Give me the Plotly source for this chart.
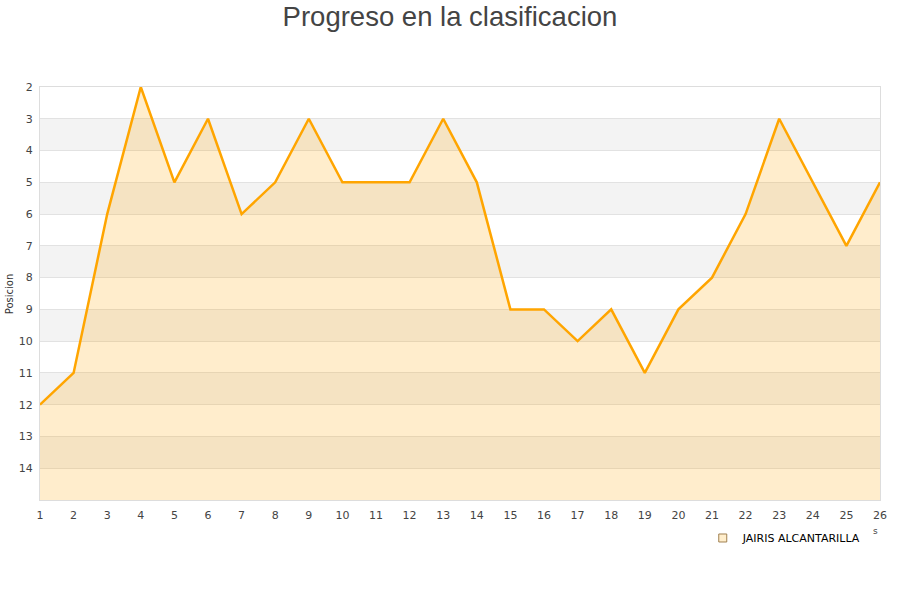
import plotly.graph_objects as go

# jornadas y posicion del equipo
jornadas = list(range(1, 27))
posicion = [12, 11, 6, 2, 5, 3, 6, 5, 3, 5, 5, 5, 3, 5, 9, 9, 10, 9, 11, 9, 8, 6, 3, 5, 7, 5]
equipo = "JAIRIS ALCANTARILLA"
y_ticks = list(range(2, 15))
fondo = 15

fig = go.Figure()

# linea base para rellenar hasta abajo (eje invertido)
fig.add_trace(go.Scatter(x=jornadas, y=[fondo] * len(jornadas), mode="lines",
                         line=dict(width=0), showlegend=False, hoverinfo="skip"))

fig.add_trace(go.Scatter(x=jornadas, y=posicion, mode="lines", name=equipo,
                         line=dict(color="#ffa500", width=2.5),
                         fill="tonexty", fillcolor="rgba(255,165,0,0.2)",
                         showlegend=False))

# entrada de leyenda
fig.add_trace(go.Scatter(x=[None], y=[None], mode="markers", name=equipo,
                         marker=dict(symbol="square", size=8, color="#ffeecc",
                                     line=dict(color="#a08050", width=1))))

# bandas grises alternas
shapes = []
for v in range(3, 15, 2):
    shapes.append(dict(type="rect", xref="paper", yref="y", x0=0, x1=1, y0=v, y1=v + 1,
                       fillcolor="#f3f3f3", line=dict(width=0), layer="below"))

fig.update_layout(
    width=900, height=600,
    margin=dict(l=40, r=20, t=87, b=100),
    paper_bgcolor="white", plot_bgcolor="white",
    font=dict(family="DejaVu Sans", size=11, color="#444"),
    title=dict(text="Progreso en la clasificacion", x=0.5, xanchor="center",
               y=0.972, yanchor="middle",
               font=dict(family="Liberation Sans", size=27.5, color="#444")),
    shapes=shapes,
    showlegend=True,
    legend=dict(orientation="h", x=0.789, y=-0.092, xanchor="left", yanchor="middle",
                font=dict(size=11, color="black"), bgcolor="rgba(0,0,0,0)"),
    annotations=[
        dict(text="Posicion", xref="paper", yref="paper", x=-0.036, y=0.5,
             xanchor="center", yanchor="middle",
             textangle=-90, showarrow=False, font=dict(size=10, color="#333")),
        dict(text="s", xref="paper", yref="paper", x=0.995, y=-0.075,
             xanchor="center", yanchor="middle",
             showarrow=False, font=dict(size=9, color="#444")),
    ],
)

fig.update_xaxes(range=[1, 26], tickvals=jornadas, showgrid=False, zeroline=False,
                 showline=True, linecolor="#dddddd", mirror=True, ticks="",
                 ticklabelstandoff=5, tickfont=dict(size=11, color="#444"))
fig.update_yaxes(range=[fondo, 2], tickvals=y_ticks, showgrid=True, gridcolor="#e2e2e2",
                 zeroline=False, showline=True, linecolor="#dddddd", mirror=True,
                 ticks="", ticklabelstandoff=4, tickfont=dict(size=11, color="#444"))

# sin margen de pagina para que la figura empiece en la esquina
fig.write_html("out.html", config={"displayModeBar": False},
               post_script="document.body.style.margin='0';")
